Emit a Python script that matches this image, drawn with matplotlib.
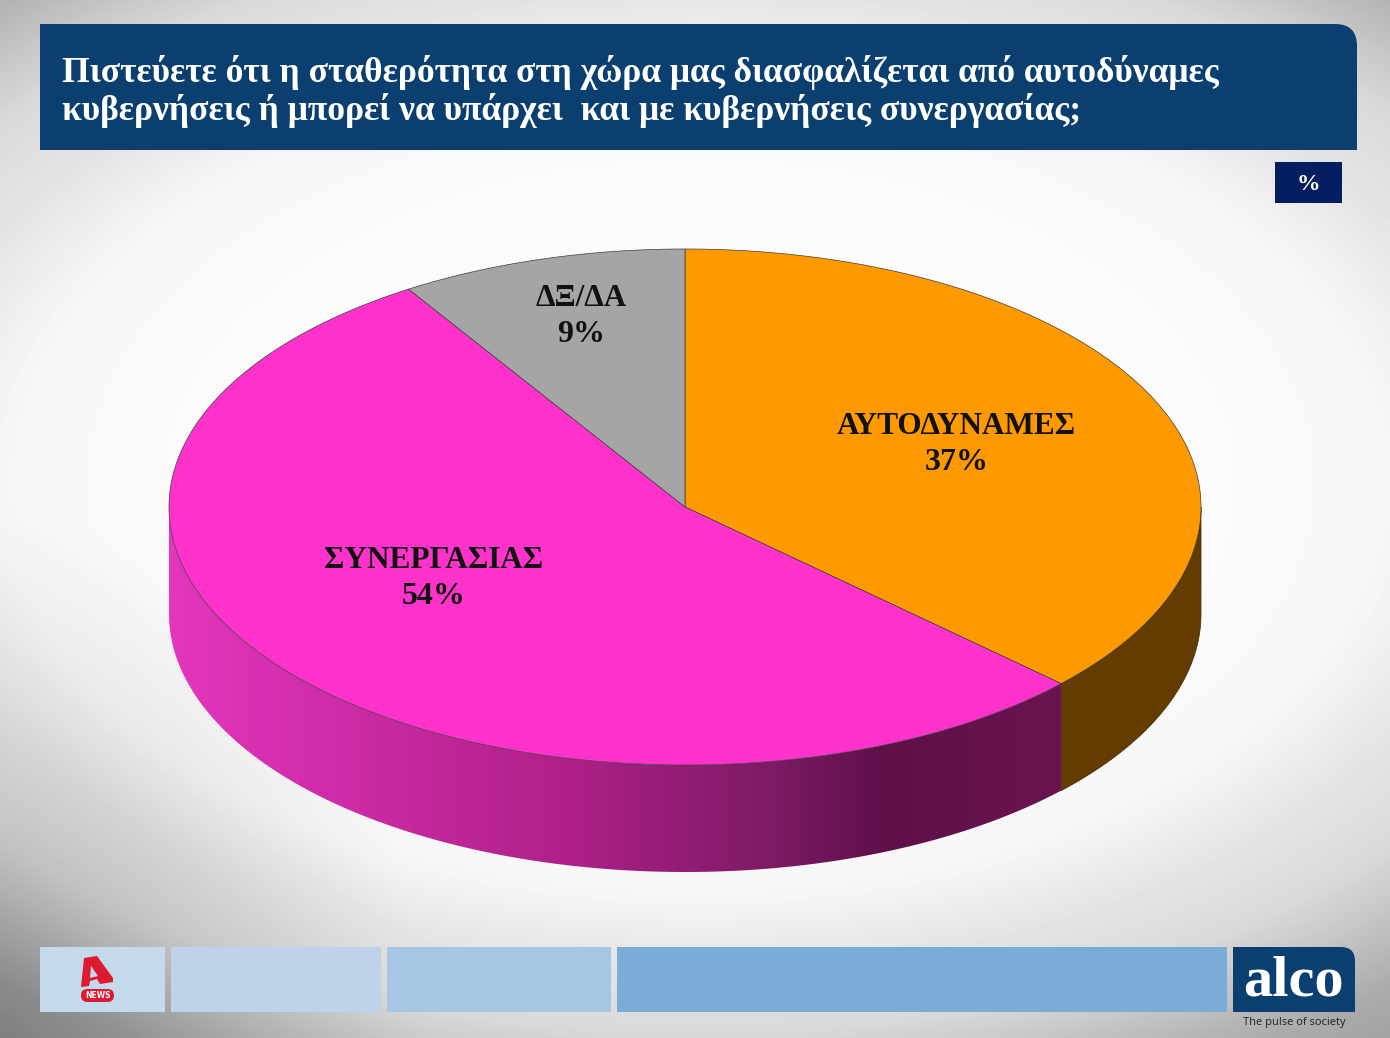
import numpy as np
from matplotlib import pyplot as plt
from matplotlib.path import Path
from matplotlib.patches import PathPatch, Polygon, Rectangle, FancyBboxPatch
from matplotlib.colors import LinearSegmentedColormap

# poll answers, clockwise from 12 o'clock
categories = ['ΑΥΤΟΔΥΝΑΜΕΣ', 'ΣΥΝΕΡΓΑΣΙΑΣ', 'ΔΞ/ΔΑ']
values = [37, 54, 9]
title_lines = ['Πιστεύετε ότι η σταθερότητα στη χώρα μας διασφαλίζεται από αυτοδύναμες',
               'κυβερνήσεις ή μπορεί να υπάρχει  και με κυβερνήσεις συνεργασίας;']
top_colors = ['#FF9900', '#FF33CC', '#A5A5A5']

W, H = 1390, 1038
CX, CY, RX, RY, DEPTH = 685, 507, 516, 258, 107
SERIF = 'Liberation Serif'

fig = plt.figure(figsize=(W / 100, H / 100), dpi=100)
ax = fig.add_axes([0, 0, 1, 1])
ax.set_xlim(0, W)
ax.set_ylim(H, 0)
ax.axis('off')

# background, nearly white over most of the slide, grey only in the corners
yy, xx = np.mgrid[0:H:2, 0:W:2]
dist = np.sqrt(((xx - 700) / 800) ** 2 + ((yy - 480) / 480) ** 2)
shade = np.interp(dist, [0, 0.7, 0.875, 1.0, 1.15, 1.36, 1.5], [0.99, 0.98, 0.96, 0.90, 0.85, 0.67, 0.62])
# bottom left is darker and reaches further up
corner = np.sqrt((xx / 420) ** 2 + ((H - yy) / 520) ** 2)
shade -= 0.14 * np.clip(1 - corner, 0, 1)
ax.imshow(shade, cmap='gray', vmin=0, vmax=1, extent=[0, W, H, 0], aspect='auto', zorder=0)
ax.set_xlim(0, W)
ax.set_ylim(H, 0)


def top_round_box(x0, y0, x1, y1, r, color):
    # box with only the top right corner rounded
    verts = [(x0, y0), (x1 - r, y0), (x1, y0), (x1, y0 + r), (x1, y1), (x0, y1), (x0, y0)]
    codes = [Path.MOVETO, Path.LINETO, Path.CURVE3, Path.CURVE3, Path.LINETO, Path.LINETO, Path.CLOSEPOLY]
    ax.add_patch(PathPatch(Path(verts, codes), facecolor=color, edgecolor='none', zorder=2))


def rim(t):
    # t is clockwise radians from 12 o'clock
    return CX + RX * np.sin(t), CY - RY * np.cos(t)


# title bar
top_round_box(40, 24, 1357, 150, 22, '#0B3F6F')
for i, line in enumerate(title_lines):
    ax.text(62, 73 + 37 * i, line, color='white', fontsize=25.55, family=SERIF, weight='bold',
            va='center', ha='left', zorder=3)

# % box
ax.add_patch(Rectangle((1275, 162), 67, 41, facecolor='#041E60', edgecolor='none', zorder=2))
ax.text(1308.5, 185, '%', color='white', fontsize=17, family=SERIF, weight='bold',
        ha='center', va='center', zorder=3)

# pie
ends = np.cumsum(values) / np.sum(values) * 2 * np.pi
starts = np.concatenate([[0], ends[:-1]])

# side wall, only the part facing us (t from pi/2 to 3pi/2)
side_cmap = LinearSegmentedColormap.from_list('side', [
    (0.0, '#E437BC'), (0.12, '#D62FB0'), (0.45, '#AE2088'), (0.68, '#7C1A65'),
    (0.80, '#5F1049'), (1.0, '#6A144F')])
for k, (a, b) in enumerate(zip(starts, ends)):
    lo, hi = max(a, np.pi / 2), min(b, 3 * np.pi / 2)
    if lo >= hi:
        continue
    t = np.linspace(lo, hi, 200)
    x, y = rim(t)
    wall = np.column_stack([np.concatenate([x, x[::-1]]), np.concatenate([y, y[::-1] + DEPTH])])
    if categories[k] == 'ΑΥΤΟΔΥΝΑΜΕΣ':
        ax.add_patch(Polygon(wall, closed=True, facecolor='#643C00', edgecolor='#3A2A10', lw=0.5, zorder=4))
    else:
        poly = Polygon(wall, closed=True, facecolor='none', edgecolor='none', zorder=4)
        ax.add_patch(poly)
        grad = ax.imshow(np.linspace(0, 1, 256).reshape(1, -1), cmap=side_cmap, aspect='auto',
                         extent=[x.min(), x.max(), y.max() + DEPTH, y.min()], zorder=4)
        grad.set_clip_path(poly)
ax.set_xlim(0, W)
ax.set_ylim(H, 0)

# top face
for a, b, col in zip(starts, ends, top_colors):
    t = np.linspace(a, b, 300)
    x, y = rim(t)
    ax.add_patch(Polygon(np.column_stack([np.r_[CX, x], np.r_[CY, y]]), closed=True,
                         facecolor=col, edgecolor='#3C3C3C', lw=0.5, zorder=5))

# slice labels, placed by hand like the original
label_pos = [(956.5, 444), (433.5, 578), (581.5, 316)]
for name, val, (lx, ly) in zip(categories, values, label_pos):
    ax.text(lx, ly - 18, name, fontsize=22.5, family=SERIF, weight='bold', color='#111111',
            ha='center', va='center', zorder=6)
    ax.text(lx, ly + 18, f'{val}%', fontsize=23, family=SERIF, weight='bold', color='#111111',
            ha='center', va='center', zorder=6)

# footer strip
for x0, x1, col in [(40, 165, '#C3D9EC'), (171, 381, '#BDD3E9'), (387, 611, '#A5C7E4'), (617, 1227, '#79ACD6')]:
    ax.add_patch(Rectangle((x0, 947), x1 - x0, 65, facecolor=col, edgecolor='none', zorder=2))
top_round_box(1233, 947, 1355, 1012, 14, '#0B3F6F')
ax.text(1293, 982, 'alco', color='white', fontsize=42, family=SERIF, weight='bold',
        ha='center', va='center', zorder=3)
ax.text(1294, 1023, 'The pulse of society', color='#222222', fontsize=8, family='Open Sans',
        ha='center', va='center', zorder=3)

# channel logo
ax.add_patch(Polygon([(84, 958), (97, 956), (113, 978), (113, 982), (100, 984), (97, 979),
                      (90, 981), (89, 986), (81, 987)],
                     closed=True, facecolor='#DD1B2F', edgecolor='none', zorder=3))
ax.add_patch(Polygon([(91, 966), (98, 976), (90, 978)], closed=True, facecolor='#C3D9EC',
                     edgecolor='none', zorder=4))
ax.add_patch(FancyBboxPatch((81, 989), 33, 13, boxstyle='round,pad=0,rounding_size=6.5',
                            facecolor='#DD1B2F', edgecolor='none', zorder=3))
ax.text(97.5, 995.5, 'NEWS', color='white', fontsize=5.5, weight='bold', ha='center', va='center', zorder=4)

fig.savefig('out.png', dpi=100)
